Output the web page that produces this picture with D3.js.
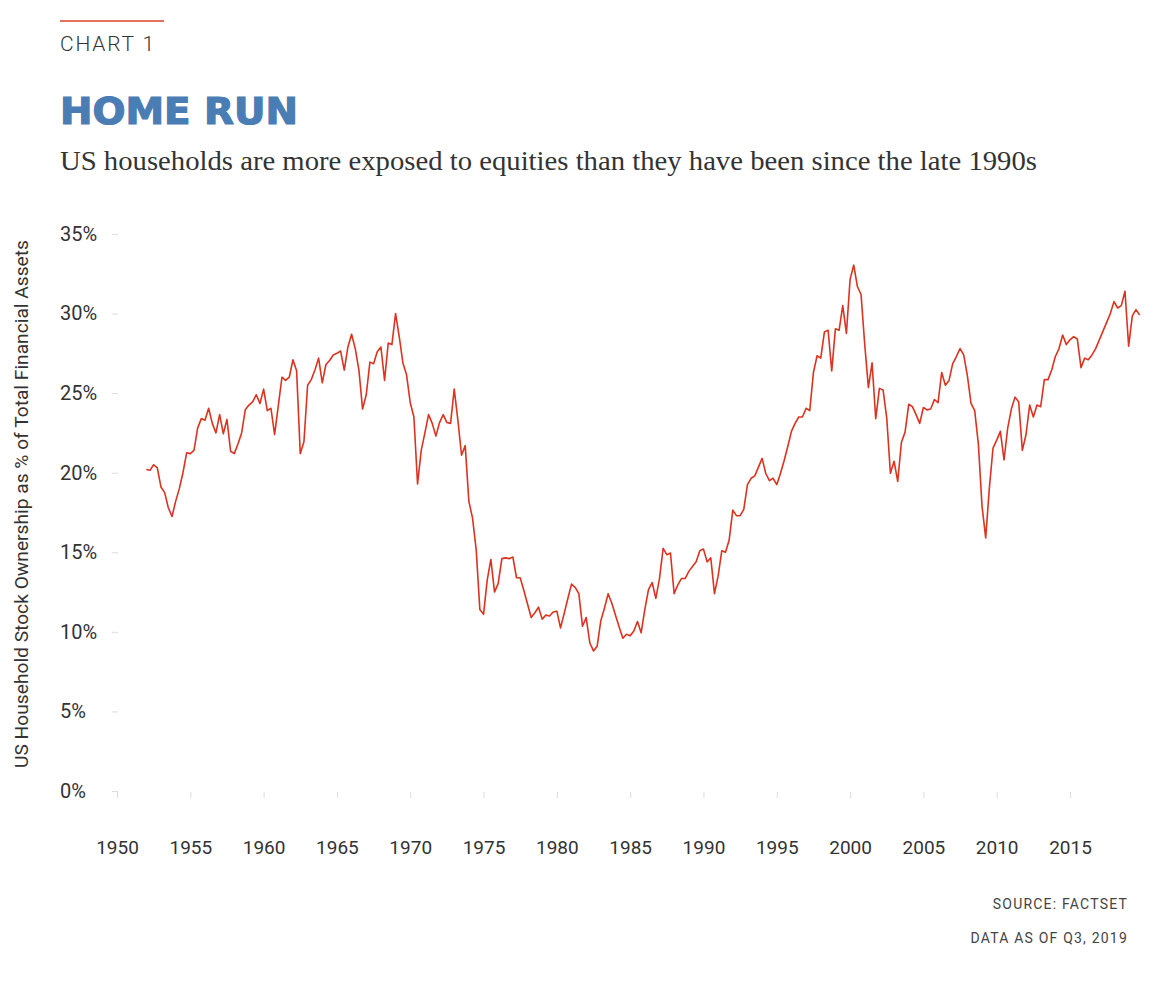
<!DOCTYPE html>
<html><head><meta charset="utf-8">
<script src="https://cdn.jsdelivr.net/npm/d3@7/dist/d3.min.js"></script>
<style>body{margin:0;background:#fff}svg{display:block}</style>
</head><body>
<svg id="chart" width="1164" height="984"></svg>
<script>
// Quarterly values, US household stock ownership as % of total financial assets
const startYear = 1952;
const q1950s = [20.2,20.15,20.5,20.3,19.1,18.75,17.8,17.25,18.2,19.0,20.0,21.25,21.2,21.4,22.8,23.4,
  23.3,24.05,23.1,22.5,23.65,22.45,23.35,21.35,21.2,21.8,22.5,23.95,24.25,24.45,24.9,24.35];
const q1960s = [25.25,23.9,24.05,22.4,24.2,26.0,25.8,26.0,27.1,26.4,21.2,21.95,25.5,25.85,26.45,27.2,
  25.65,26.8,27.05,27.4,27.5,27.65,26.45,27.9,28.7,27.8,26.45,24.0,24.9,26.95,26.85,27.6,
  27.9,25.8,28.15,28.05,30.0,28.55,26.9,26.15];
const q1970s = [24.4,23.5,19.3,21.4,22.5,23.65,23.1,22.3,23.15,23.65,23.15,23.1,25.25,23.3,21.1,21.7,
  18.2,17.15,15.15,11.4,11.1,13.25,14.55,12.5,13.05,14.6,14.65,14.6,14.7,13.4,13.4,12.6,
  11.75,10.9,11.2,11.55,10.8,11.05,11.0,11.25];
const q1980s = [11.3,10.25,11.15,12.1,13.0,12.8,12.4,10.35,10.9,9.3,8.8,9.1,10.7,11.5,12.4,11.8,
  11.05,10.3,9.6,9.85,9.75,10.05,10.65,9.95,11.4,12.65,13.1,12.1,13.35,15.25,14.85,14.95,
  12.4,12.95,13.35,13.35,13.8,14.1,14.4,15.1];
const q1990s = [15.2,14.4,14.65,12.4,13.5,15.1,15.0,15.75,17.65,17.3,17.3,17.7,19.25,19.65,19.8,20.35,
  20.9,19.95,19.5,19.65,19.25,19.95,20.75,21.65,22.6,23.1,23.5,23.5,24.05,23.9,26.3,27.35,
  27.2,28.85,28.95,26.4,29.05,28.95,30.5,28.75];
const q2000s = [32.15,33.05,31.7,31.2,28.05,25.35,26.9,23.4,25.3,25.2,23.45,19.97,20.72,19.45,21.9,22.55,
  24.3,24.15,23.65,23.1,24.1,23.95,24.0,24.6,24.4,26.3,25.5,25.8,26.85,27.3,27.8,27.4,
  26.1,24.35,23.9,21.8,17.9,15.9,19.05,21.55];
const q2010s = [22.05,22.6,20.8,22.8,24.0,24.75,24.45,21.4,22.4,24.25,23.5,24.25,24.15,25.85,25.85,26.45,
  27.3,27.8,28.65,28.05,28.35,28.55,28.4,26.6,27.2,27.1,27.4,27.8,28.35,28.9,29.45,30.0,
  30.75,30.35,30.5,31.4,27.95,29.85,30.25,29.9];

const yTicks = [0,5,10,15,20,25,30,35];
const xTicks = [1950,1955,1960,1965,1970,1975,1980,1985,1990,1995,2000,2005,2010,2015];

const series = [].concat(q1950s,q1960s,q1970s,q1980s,q1990s,q2000s,q2010s)
  .map((v,i)=>({t: startYear + i/4, v}));

const svg = d3.select("#chart");
const x = d3.scaleLinear().domain([1950, 2015]).range([117, 1070]);
const y = d3.scaleLinear().domain([0, 35]).range([791, 234]);

const sans = "Roboto, 'Liberation Sans', Arial, sans-serif";
const txt = "#333";

// header
svg.append("line").attr("x1",60).attr("x2",164).attr("y1",21).attr("y2",21)
  .attr("stroke","#e0402a").attr("stroke-width",1.5);
svg.append("text").attr("x",60).attr("y",51).text("CHART 1")
  .attr("font-family",sans).attr("font-size",21).attr("fill",txt)
  .attr("letter-spacing",1.8).attr("font-weight",300);
svg.append("text").attr("x",60).attr("y",124).text("HOME RUN")
  .attr("font-family","'DejaVu Sans', sans-serif").attr("font-weight",700)
  .attr("font-size",37).attr("fill","#4a7db4").attr("stroke","#4a7db4").attr("stroke-width",1.2)
  .attr("textLength",238).attr("lengthAdjust","spacingAndGlyphs");
svg.append("text").attr("x",60).attr("y",170)
  .text("US households are more exposed to equities than they have been since the late 1990s")
  .attr("font-family","'Liberation Serif', 'DejaVu Serif', serif")
  .attr("font-size",28).attr("fill","#333")
  .attr("textLength",977).attr("lengthAdjust","spacingAndGlyphs");

// y axis
const yAxis = d3.axisLeft(y).tickValues(yTicks).tickSize(6).tickFormat(d=>d+"%");
const gy = svg.append("g").attr("transform","translate(118,0)").call(yAxis);
gy.select(".domain").remove();
gy.selectAll(".tick line").attr("stroke","#ddd");
gy.selectAll(".tick text").attr("x",-58).attr("text-anchor","start")
  .attr("font-family",sans).attr("font-size",20).attr("fill",txt);

// x axis
const xAxis = d3.axisBottom(x).tickValues(xTicks).tickSize(6).tickFormat(d3.format("d"));
const gx = svg.append("g").attr("transform","translate(0,792)").call(xAxis);
gx.select(".domain").remove();
gx.selectAll(".tick line").attr("stroke","#ddd");
gx.selectAll(".tick text").attr("y",56).attr("dy","0.32em")
  .attr("font-family",sans).attr("font-size",19).attr("fill",txt);

// y axis title
svg.append("text").attr("transform","translate(28,504) rotate(-90)")
  .attr("text-anchor","middle").text("US Household Stock Ownership as % of Total Financial Assets")
  .attr("font-family",sans).attr("font-size",19).attr("fill",txt)
  .attr("textLength",528).attr("lengthAdjust","spacingAndGlyphs");

// line
const line = d3.line().x(d=>x(d.t)).y(d=>y(d.v));
svg.append("path").datum(series).attr("d",line).attr("fill","none")
  .attr("stroke","#dc3320").attr("stroke-width",1.6).attr("stroke-linejoin","round");

// footer
svg.append("text").attr("x",1128).attr("y",909).attr("text-anchor","end").text("SOURCE: FACTSET")
  .attr("font-family",sans).attr("font-size",14).attr("letter-spacing",1.2).attr("fill","#444");
svg.append("text").attr("x",1128).attr("y",943).attr("text-anchor","end").text("DATA AS OF Q3, 2019")
  .attr("font-family",sans).attr("font-size",14).attr("letter-spacing",1.2).attr("fill","#444");
</script>
</body></html>
